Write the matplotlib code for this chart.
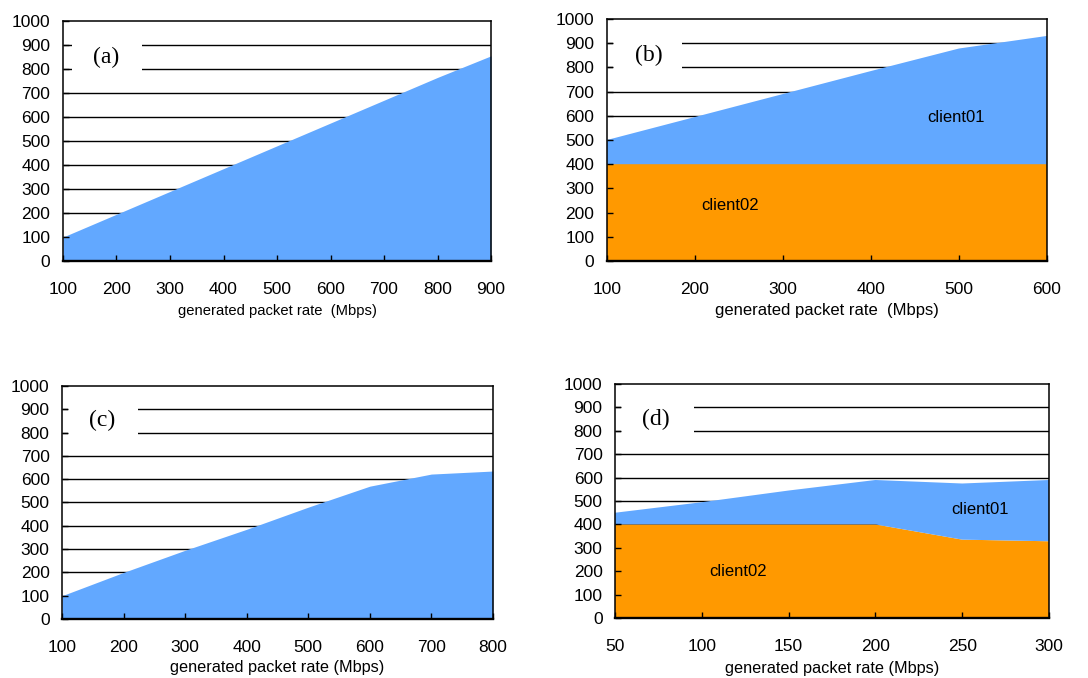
import matplotlib
matplotlib.use("Agg")
import matplotlib.pyplot as plt
from matplotlib.patches import Rectangle

# data
a_rate = [100, 200, 300, 400, 500, 600, 700, 800, 900]
a_total = [100, 195, 290, 385, 480, 575, 670, 765, 855]

b_rate = [100, 200, 300, 400, 500, 600]
b_client02 = [400, 400, 400, 400, 400, 400]
b_client01 = [100, 195, 290, 385, 478, 530]

c_rate = [100, 200, 300, 400, 500, 600, 700, 800]
c_total = [100, 200, 295, 385, 480, 570, 622, 635]

d_rate = [50, 100, 150, 200, 250, 300]
d_client02 = [400, 400, 400, 400, 335, 328]
d_client01 = [50, 95, 145, 190, 240, 262]

yticks = [0, 100, 200, 300, 400, 500, 600, 700, 800, 900, 1000]

BLUE = "#62a8ff"
ORANGE = "#ff9900"

plt.rcParams['font.family'] = ['Liberation Sans', 'DejaVu Sans']

fig = plt.figure(figsize=(10.88, 6.78), dpi=100)

ax_a = fig.add_axes([0.0579, 0.615, 0.3934, 0.354])
ax_b = fig.add_axes([0.5579, 0.615, 0.4044, 0.357])
ax_c = fig.add_axes([0.057, 0.087, 0.396, 0.3437])
ax_d = fig.add_axes([0.5653, 0.0885, 0.3989, 0.345])


def style(ax, x, tag, xlabel, label_size, gap, label_y):
    ax.set_xlim(x[0], x[-1])
    ax.set_ylim(0, 1000)
    ax.set_xticks(x)
    ax.set_yticks(yticks)
    ax.tick_params(direction='in', length=4, width=1, labelsize=12.5, color='black')
    ax.tick_params(axis='x', pad=15)
    ax.tick_params(axis='y', pad=9)
    # horizontal rules behind the areas
    ax.hlines(yticks[1:-1], 0, 1, transform=ax.get_yaxis_transform(),
              color='black', lw=1.0, zorder=0.5)
    # white box behind the panel tag
    ax.add_patch(Rectangle((gap[0], 0.755), gap[1] - gap[0], 0.19,
                           transform=ax.transAxes, facecolor='white',
                           edgecolor='none', zorder=0.8))
    ax.text(gap[0] + 0.08, 0.85, tag, transform=ax.transAxes, ha='center', va='center',
            fontsize=17, family='Liberation Serif', zorder=3)
    for s in ax.spines.values():
        s.set_linewidth(1.1)
        s.set_zorder(2.5)
    ax.spines['bottom'].set_linewidth(1.7)
    lab = ax.set_xlabel(xlabel, fontsize=label_size)
    lab.set_va('center')
    ax.xaxis.set_label_coords(0.5, label_y)


ax_a.fill_between(a_rate, 0, a_total, color=BLUE, lw=0, zorder=1)
style(ax_a, a_rate, "(a)", "generated packet rate  (Mbps)", 10.6, (0.021, 0.185), -0.208)

ax_b.stackplot(b_rate, b_client02, b_client01, colors=[ORANGE, BLUE], lw=0, zorder=1)
style(ax_b, b_rate, "(b)", "generated packet rate  (Mbps)", 12, (0.014, 0.17), -0.203)
ax_b.text(497, 591, "client01", ha='center', va='center', fontsize=12, zorder=3)
ax_b.text(240, 231, "client02", ha='center', va='center', fontsize=12, zorder=3)

ax_c.fill_between(c_rate, 0, c_total, color=BLUE, lw=0, zorder=1)
style(ax_c, c_rate, "(c)", "generated packet rate (Mbps)", 11.7, (0.014, 0.176), -0.21)

ax_d.stackplot(d_rate, d_client02, d_client01, colors=[ORANGE, BLUE], lw=0, zorder=1)
style(ax_d, d_rate, "(d)", "generated packet rate (Mbps)", 11.7, (0.014, 0.182), -0.214)
ax_d.text(260, 462, "client01", ha='center', va='center', fontsize=12, zorder=3)
ax_d.text(121, 197, "client02", ha='center', va='center', fontsize=12, zorder=3)

fig.savefig("out.png", dpi=100)
